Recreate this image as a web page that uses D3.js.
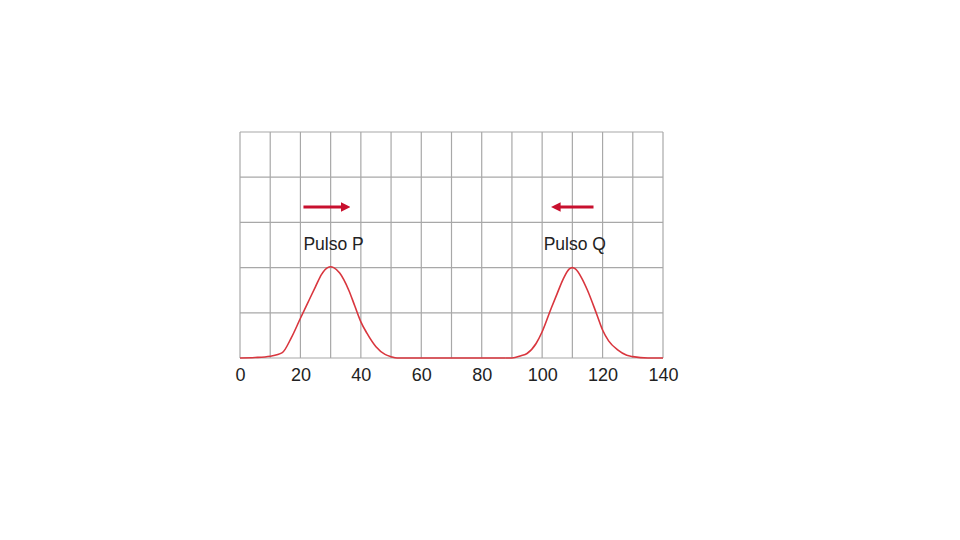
<!DOCTYPE html>
<html>
<head>
<meta charset="utf-8">
<script src="https://cdn.jsdelivr.net/npm/d3@7"></script>
<style>
  body { margin: 0; background: #fff; }
  text { font-family: "Liberation Sans", Arial, sans-serif; }
</style>
</head>
<body>
<div id="chart"></div>
<script>
let width = 960, height = 540;
let margin = ({top: 132, right: 297, bottom: 182, left: 240});

// pulse P (x, y), y in grid units
let pulseP = [[0, 0.0], [5, 0.01], [10, 0.04], [14, 0.12], [17, 0.45], [20, 0.88], [23, 1.3],
    [25, 1.58], [27, 1.85], [29, 2.0], [30, 2.02], [31, 2.0], [33, 1.88], [36, 1.5],
    [38, 1.15], [40, 0.8], [42, 0.55], [45, 0.25], [48, 0.08], [50, 0.03], [52, 0.0], [60, 0.0],
    [70, 0.0], [80, 0.0], [88, 0.0]];
let pulseQ = [[88, 0.0], [90, 0.0], [93, 0.05], [95, 0.1], [98, 0.32], [100, 0.58], [103, 1.1],
    [105, 1.43], [107, 1.75], [109, 1.97], [110, 2.0], [111, 1.97], [113, 1.78], [115, 1.5],
    [118, 0.98], [120, 0.62], [122, 0.38], [125, 0.18], [128, 0.06], [130, 0.03], [135, 0.0], [140, 0.0]];

let xTicks = [0, 20, 40, 60, 80, 100, 120, 140];
let xGrid = d3.range(0, 141, 10);
let yGrid = [0, 1, 2, 3, 4, 5];

let labels = [{text: "Pulso P", x: 21, y: 2.4}, {text: "Pulso Q", x: 100.5, y: 2.4}];
let arrows = [{from: 21, to: 36, y: 3.34}, {from: 117, to: 103.5, y: 3.34}];

let xScale = d3.scaleLinear().domain([0, 140]).range([margin.left, width - margin.right]);
let yScale = d3.scaleLinear().domain([0, 5]).range([height - margin.bottom, margin.top]);

let svg = d3.select("#chart").append("svg")
    .attr("width", width)
    .attr("height", height);

svg.append("defs").append("marker")
    .attr("id", "head")
    .attr("viewBox", "0 0 10 10")
    .attr("refX", 2)
    .attr("refY", 5)
    .attr("markerWidth", 3.2)
    .attr("markerHeight", 3.2)
    .attr("orient", "auto")
    .append("path")
    .attr("d", "M0,0L10,5L0,10z")
    .attr("fill", "#c8102e");

svg.append("g")
    .selectAll("line")
    .data(xGrid)
    .enter().append("line")
    .attr("x1", d => xScale(d)).attr("x2", d => xScale(d))
    .attr("y1", yScale(0)).attr("y2", yScale(5))
    .attr("stroke", "#a8a8a8")
    .attr("stroke-width", 1.2);

svg.append("g")
    .selectAll("line")
    .data(yGrid)
    .enter().append("line")
    .attr("x1", xScale(0)).attr("x2", xScale(140))
    .attr("y1", d => yScale(d)).attr("y2", d => yScale(d))
    .attr("stroke", "#a8a8a8")
    .attr("stroke-width", 1.2);

let line = d3.line()
    .x(d => xScale(d[0]))
    .y(d => yScale(d[1]))
    .curve(d3.curveMonotoneX);

[pulseP, pulseQ].forEach(function(p) {
    svg.append("path")
        .datum(p)
        .attr("fill", "none")
        .attr("stroke", "#d9363e")
        .attr("stroke-width", 1.6)
        .attr("d", line);
});

svg.selectAll(".arrow")
    .data(arrows)
    .enter().append("line")
    .attr("class", "arrow")
    .attr("x1", d => xScale(d.from))
    .attr("x2", d => xScale(d.to) - Math.sign(d.to - d.from) * 6)
    .attr("y1", d => yScale(d.y)).attr("y2", d => yScale(d.y))
    .attr("stroke", "#c8102e")
    .attr("stroke-width", 3)
    .attr("marker-end", "url(#head)");

svg.selectAll(".label")
    .data(labels)
    .enter().append("text")
    .attr("class", "label")
    .attr("x", d => xScale(d.x))
    .attr("y", d => yScale(d.y))
    .attr("font-size", 17.5)
    .attr("fill", "#222")
    .text(d => d.text);

let xAxis = d3.axisBottom(xScale)
    .tickValues(xTicks)
    .tickSize(0)
    .tickPadding(10);

let gX = svg.append("g")
    .attr("transform", `translate(0,${height - margin.bottom})`)
    .call(xAxis);
gX.select(".domain").remove();
gX.selectAll("text")
    .attr("font-size", 18)
    .attr("font-family", "Liberation Sans, Arial, sans-serif")
    .attr("fill", "#222");
</script>
</body>
</html>
